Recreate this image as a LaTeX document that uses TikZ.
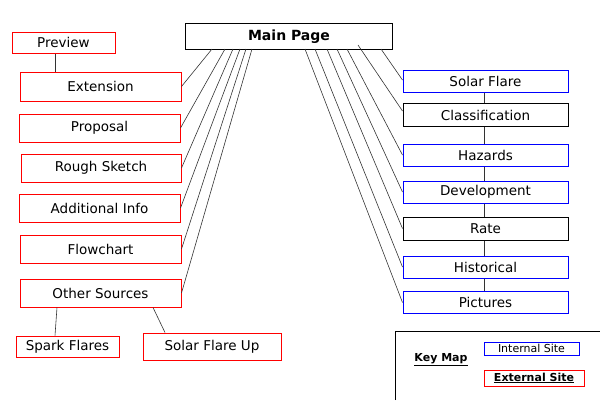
\documentclass[tikz,border=0pt]{standalone}
\usepackage{fontspec}
\setmainfont{DejaVu Sans}
\begin{document}
\begin{tikzpicture}[x=1pt,y=-1pt,
  box/.style={draw,line width=1pt,inner sep=0pt,font=\fontsize{13.5}{15}\selectfont},
  red/.style={box,draw=red},
  blu/.style={box,draw=blue},
  ln/.style={draw=black!80,line width=0.6pt}]
\useasboundingbox (0,0) rectangle (600,400);
\node[box,minimum width=207,minimum height=26] (main) at (288.5,36) {};
\node[font=\fontsize{14}{16}\selectfont\bfseries] at (289,37) {Main Page};
% left
\node[red,minimum width=103,minimum height=21] (prev) at (63.5,42.5) {Preview};
\node[red,minimum width=161,minimum height=29] (ext) at (100.5,86.5) {Extension};
\node[red,minimum width=161,minimum height=28] (prop) at (99.5,128) {Proposal};
\node[red,minimum width=160,minimum height=28] (rough) at (101,168) {Rough Sketch};
\node[red,minimum width=161,minimum height=28] (add) at (99.5,208) {Additional Info};
\node[red,minimum width=161,minimum height=28] (flow) at (100.5,249) {Flowchart};
\node[red,minimum width=161,minimum height=28] (other) at (100.5,293) {Other Sources};
\node[red,minimum width=103,minimum height=21] (spark) at (67.5,346.5) {Spark Flares};
\node[red,minimum width=138,minimum height=27] (sfu) at (212,346.5) {Solar Flare Up};
% right
\node[blu,minimum width=165,minimum height=22] (sf) at (485.5,81) {Solar Flare};
\node[box,minimum width=165,minimum height=23] (cls) at (485.5,115) {Classification};
\node[blu,minimum width=165,minimum height=22] (haz) at (485.5,155) {Hazards};
\node[blu,minimum width=165,minimum height=22] (dev) at (485.5,192) {Development};
\node[box,minimum width=165,minimum height=23] (rate) at (485.5,228.5) {Rate};
\node[blu,minimum width=165,minimum height=22] (hist) at (485.5,267) {Historical};
\node[blu,minimum width=165,minimum height=22] (pic) at (485.5,302.5) {Pictures};
% connectors left
\coordinate (m1) at (212,49); \coordinate (m2) at (225,49); \coordinate (m3) at (233,49);
\coordinate (m4) at (240,49); \coordinate (m5) at (246,49); \coordinate (m6) at (252,49);
\draw[ln] (m1) -- (ext.east); \draw[ln] (m2) -- (prop.east);
\draw[ln] (m3) -- (rough.east); \draw[ln] (m4) -- (add.east);
\draw[ln] (m5) -- (flow.east); \draw[ln] (m6) -- (other.east);
\draw[ln] (prev.south -| 55,0) -- (ext.north -| 55,0);
\draw[ln] (other.south -| 57,0) -- (spark.north -| 55,0);
\draw[ln] (other.south -| 153,0) -- (sfu.north -| 165,0);
% connectors right
\coordinate (r1) at (381,49); \coordinate (r2) at (358,45); \coordinate (r3) at (347,49);
\coordinate (r4) at (337,49); \coordinate (r5) at (327,49); \coordinate (r6) at (315,49);
\coordinate (r7) at (305,49);
\draw[ln] (r1) -- ([yshift=1]sf.west); \draw[ln] (r2) -- ([yshift=4]cls.west);
\draw[ln] (r3) -- (haz.west); \draw[ln] (r4) -- (dev.west);
\draw[ln] (r5) -- (rate.west); \draw[ln] (r6) -- (hist.west);
\draw[ln] (r7) -- (pic.west);
\foreach \a/\b in {sf/cls,cls/haz,haz/dev,dev/rate,rate/hist,hist/pic}
  \draw[ln] (\a.south -| 484,0) -- (\b.north -| 484,0);
% key map
\draw[line width=1pt] (395,400) -- (395,331) -- (600,331);
\node[font=\fontsize{11}{13}\selectfont\bfseries] (km) at (441,360) {\underline{Key Map}};
\node[blu,minimum width=95,minimum height=13,font=\fontsize{11}{13}\selectfont] (int) at (531.5,348.5) {Internal Site};
\node[red,minimum width=100,minimum height=16,font=\fontsize{11}{13}\selectfont\bfseries] (extk) at (534,378) {\underline{External Site}};
\end{tikzpicture}
\end{document}
